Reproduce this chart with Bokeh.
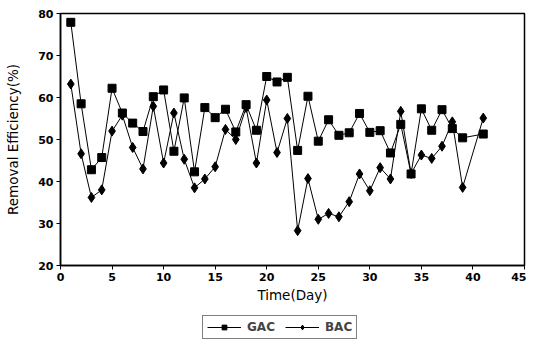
from bokeh.plotting import figure
from bokeh.layouts import column
from bokeh.models import Legend, LegendItem, Range1d, SingleIntervalTicker
from bokeh.embed import file_html
from bokeh.resources import INLINE

gac_days = [1, 2, 3, 4, 5, 6, 7, 8, 9, 10, 11, 12, 13, 14, 15, 16, 17, 18, 19, 20,
            21, 22, 23, 24, 25, 26, 27, 28, 29, 30, 31, 32, 33, 34, 35, 36, 37, 38, 39, 41]
gac_vals = [77.9, 58.5, 42.8, 45.7, 62.2, 56.3, 53.9, 51.9, 60.2, 61.8,
            47.2, 59.9, 42.3, 57.6, 55.2, 57.2, 51.8, 58.3, 52.2, 65.0,
            63.7, 64.8, 47.4, 60.3, 49.6, 54.7, 51.0, 51.6, 56.2, 51.7,
            52.1, 46.8, 53.6, 41.8, 57.3, 52.2, 57.1, 52.6, 50.4, 51.3]
bac_days = [1, 2, 3, 4, 5, 6, 7, 8, 9, 10, 11, 12, 13, 14, 15, 16, 17, 18, 19, 20,
            21, 22, 23, 24, 25, 26, 27, 28, 29, 30, 31, 32, 33, 34, 35, 36, 37, 38, 39, 41]
bac_vals = [63.2, 46.6, 36.2, 38.0, 52.0, 55.8, 48.1, 43.0, 57.9, 44.4,
            56.3, 45.3, 38.5, 40.6, 43.5, 52.4, 50.0, 57.6, 44.4, 59.4,
            46.9, 55.0, 28.3, 40.7, 31.0, 32.4, 31.6, 35.2, 41.8, 37.8,
            43.3, 40.6, 56.7, 41.9, 46.3, 45.5, 48.4, 54.2, 38.6, 55.1]
series_names = ["GAC", "BAC"]

x_label = "Time(Day)"
y_label = "Removal Efficiency(%)"

FONT = "DejaVu Sans"

p = figure(width=526, height=305, output_backend="svg", toolbar_location=None,
           x_range=Range1d(0, 45), y_range=Range1d(20, 80),
           min_border_left=60, min_border_right=2, min_border_top=13, min_border_bottom=39)
p.grid.visible = False
p.outline_line_color = "black"
p.outline_line_width = 1.5
p.background_fill_color = "white"

for ax in (p.xaxis[0], p.yaxis[0]):
    ax.axis_line_color = "black"
    ax.axis_line_width = 1.5
    ax.major_tick_line_color = "black"
    ax.major_tick_out = 4
    ax.major_tick_in = 0
    ax.minor_tick_line_color = None
    ax.major_label_text_font = FONT
    ax.major_label_text_font_style = "bold"
    ax.major_label_text_font_size = "11px"
    ax.major_label_text_color = "black"
    ax.axis_label_text_font = FONT
    ax.axis_label_text_font_style = "normal"
    ax.axis_label_text_font_size = "13.5px"
    ax.axis_label_text_color = "black"
    ax.major_label_standoff = 3

p.xaxis.ticker = SingleIntervalTicker(interval=5)
p.yaxis.ticker = SingleIntervalTicker(interval=10)
p.xaxis.axis_label = x_label
p.yaxis.axis_label = y_label
p.xaxis.axis_label_standoff = 3
p.yaxis.axis_label_standoff = 14

styles = [dict(marker="square", size=8), dict(marker="diamond", size=10)]
series = [(gac_days, gac_vals), (bac_days, bac_vals)]

for (xs, ys), st in zip(series, styles):
    p.line(xs, ys, line_color="black", line_width=1)
    p.scatter(xs, ys, fill_color="black", line_color="black", **st)

# legend strip below the chart (its series sit outside its visible range)
p2 = figure(width=526, height=36, output_backend="svg", toolbar_location=None,
            x_range=Range1d(0, 45), y_range=Range1d(1000, 1001),
            x_axis_type=None, y_axis_type=None,
            min_border_left=60, min_border_right=2, min_border_top=0, min_border_bottom=0)
p2.grid.visible = False
p2.outline_line_color = None
items = []
for name, (xs, ys), st in zip(series_names, series, styles):
    l = p2.line(xs, ys, line_color="black", line_width=1)
    m = p2.scatter(xs, ys, fill_color="black", line_color="black",
                   marker=st["marker"], size=st["size"] - 2)
    items.append(LegendItem(label=name, renderers=[l, m]))

legend = Legend(items=items, orientation="horizontal", location=(142, 2),
                border_line_color="black", border_line_width=1,
                background_fill_color="white", background_fill_alpha=1,
                label_text_font=FONT, label_text_font_style="bold",
                label_text_font_size="12px", glyph_width=34, glyph_height=12,
                label_standoff=6, spacing=10, padding=4, margin=0)
p2.add_layout(legend, "center")

open("out.html", "w").write(file_html(column(p, p2, spacing=0), INLINE))
